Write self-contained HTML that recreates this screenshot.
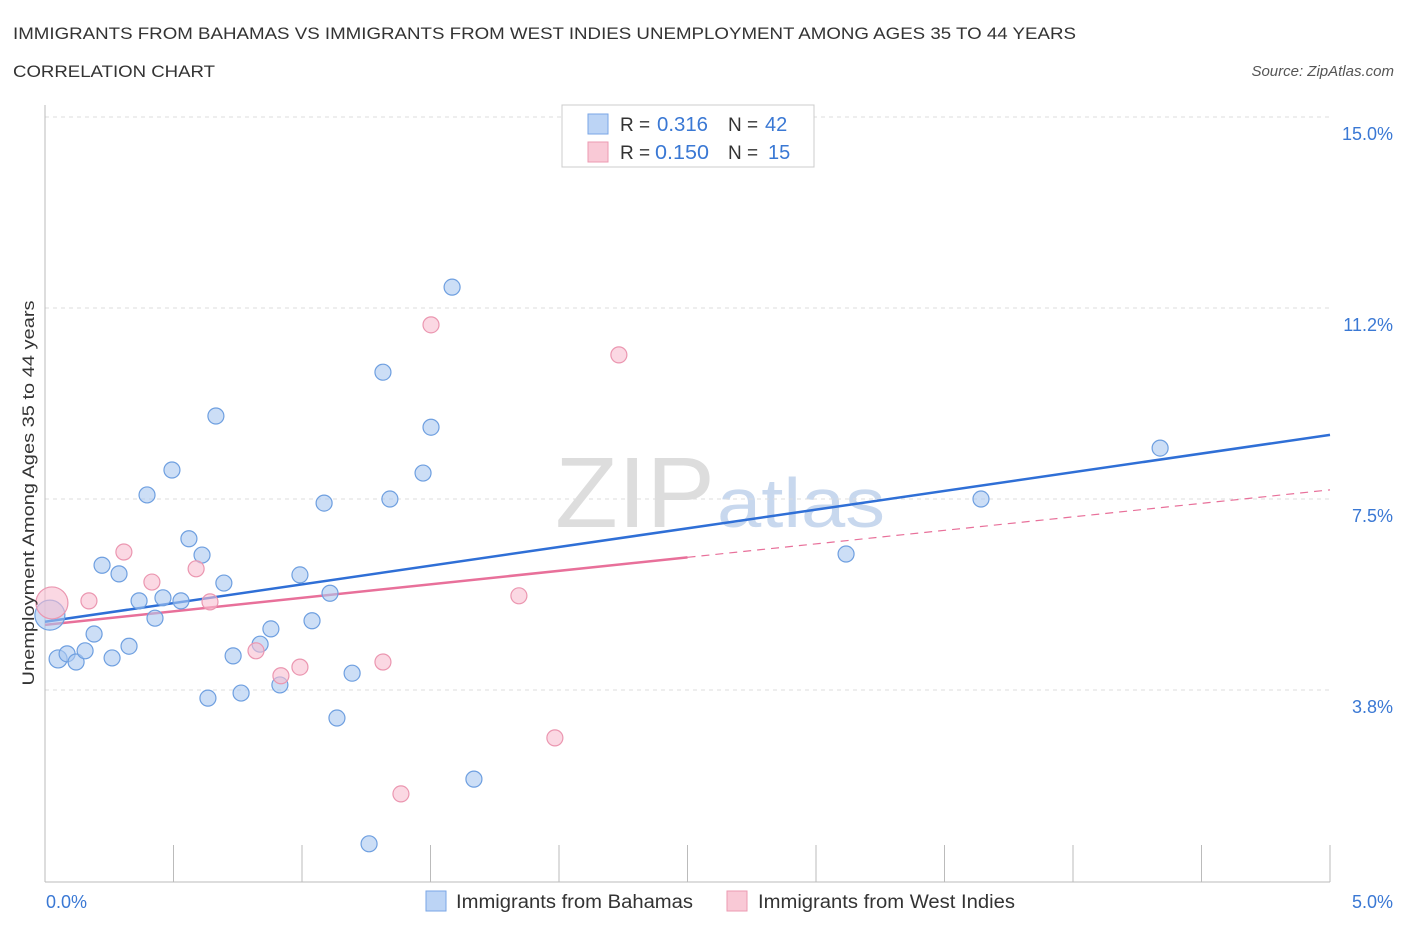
<!DOCTYPE html>
<html><head><meta charset="utf-8"><style>
body{margin:0;background:#fff;font-family:"Liberation Sans",sans-serif}
svg text{font-family:"Liberation Sans",sans-serif}
</style></head><body>
<svg width="1406" height="930" viewBox="0 0 1406 930" xmlns="http://www.w3.org/2000/svg" id="chart">
<text x="13" y="39" font-size="17" fill="#333" textLength="1063" lengthAdjust="spacingAndGlyphs">IMMIGRANTS FROM BAHAMAS VS IMMIGRANTS FROM WEST INDIES UNEMPLOYMENT AMONG AGES 35 TO 44 YEARS</text>
<text x="13" y="77" font-size="17" fill="#333" textLength="202" lengthAdjust="spacingAndGlyphs">CORRELATION CHART</text>
<text x="1394" y="76" font-size="15" fill="#555" font-style="italic" text-anchor="end">Source: ZipAtlas.com</text>
<text x="555" y="527" font-size="100" fill="#ddd" font-family="Liberation Serif" textLength="160" lengthAdjust="spacingAndGlyphs">ZIP</text>
<text x="717" y="527" font-size="70" fill="#c8d8ee" textLength="168" lengthAdjust="spacingAndGlyphs">atlas</text>
<g id="grid"></g>
<g id="axes"></g>
<g id="trend"></g>
<g id="pts"></g>
<text transform="translate(34,493) rotate(-90)" font-size="17" fill="#333" text-anchor="middle" textLength="385" lengthAdjust="spacingAndGlyphs">Unemployment Among Ages 35 to 44 years</text>
<text x="46" y="908" font-size="18" fill="#3a78d4">0.0%</text>
<text x="1393" y="908" font-size="18" fill="#3a78d4" text-anchor="end">5.0%</text>
<g>
<rect x="562" y="105" width="252" height="62" fill="#fff" stroke="#ccc"/>
<rect x="588" y="114" width="20" height="20" fill="#bcd4f5" stroke="#7aa6e6"/>
<rect x="588" y="142" width="20" height="20" fill="#f9c9d6" stroke="#ec9ab2"/>
<text x="620" y="131" font-size="19" fill="#333">R =</text><text x="657" y="131" font-size="20" fill="#3a78d4" textLength="51" lengthAdjust="spacingAndGlyphs">0.316</text>
<text x="728" y="131" font-size="19" fill="#333">N =</text><text x="765" y="131" font-size="20" fill="#3a78d4">42</text>
<text x="620" y="159" font-size="19" fill="#333">R =</text><text x="655" y="159" font-size="20" fill="#3a78d4" textLength="54" lengthAdjust="spacingAndGlyphs">0.150</text>
<text x="728" y="159" font-size="19" fill="#333">N =</text><text x="768" y="159" font-size="20" fill="#3a78d4">15</text>
</g>
<g>
<rect x="426" y="891" width="20" height="20" fill="#bcd4f5" stroke="#7aa6e6"/>
<text x="456" y="908" font-size="19" fill="#333" textLength="237" lengthAdjust="spacingAndGlyphs">Immigrants from Bahamas</text>
<rect x="727" y="891" width="20" height="20" fill="#f9c9d6" stroke="#ec9ab2"/>
<text x="758" y="908" font-size="19" fill="#333" textLength="257" lengthAdjust="spacingAndGlyphs">Immigrants from West Indies</text>
</g>
</svg>
<script>
const yTicks=[3.75,7.5,11.25,15];
const yTickLabels=["3.8%","7.5%","11.2%","15.0%"];
const blueX=[0.019,0.051,0.086,0.121,0.156,0.191,0.222,0.261,0.288,0.327,0.366,0.397,0.428,0.459,0.494,0.529,0.560,0.611,0.634,0.665,0.696,0.732,0.763,0.837,0.879,0.914,0.992,1.039,1.086,1.109,1.136,1.195,1.261,1.315,1.342,1.471,1.502,1.584,1.669,3.117,3.642,4.339];
const blueY=[5.22,4.36,4.46,4.30,4.52,4.85,6.20,4.38,6.03,4.61,5.50,7.58,5.16,5.56,8.07,5.50,6.72,6.40,3.59,9.13,5.85,4.42,3.69,4.65,4.95,3.85,6.01,5.11,7.42,5.65,3.20,4.08,0.73,9.99,7.50,8.01,8.91,11.66,2.00,6.42,7.50,8.50];
const pinkX=[0.027,0.171,0.307,0.416,0.588,0.642,0.821,0.918,0.992,1.315,1.385,1.502,1.844,1.984,2.233];
const pinkY=[5.46,5.50,6.46,5.87,6.13,5.48,4.52,4.03,4.20,4.30,1.71,10.92,5.60,2.81,10.33];
const blueTrend=[5.09,8.76];
const pinkTrend=[5.03,7.68];
const NS="http://www.w3.org/2000/svg";
const xs=v=>45+v*257, ys=v=>881-v*50.93;
function mk(t,a,p){const e=document.createElementNS(NS,t);for(const k in a)e.setAttribute(k,a[k]);p.appendChild(e);return e;}
const grid=document.getElementById('grid'),axes=document.getElementById('axes'),tr=document.getElementById('trend'),pts=document.getElementById('pts');
yTicks.forEach((v,i)=>{
 const l=mk('line',{x1:45,x2:1330,y1:ys(v),y2:ys(v),stroke:'#ddd','stroke-dasharray':'4,4'},grid);
 
 
 const t=mk('text',{x:1393,y:ys(v)+23,'font-size':18,fill:'#3a78d4','text-anchor':'end'},grid);
 t.textContent=yTickLabels[i];
 
 
});
const al=mk('line',{x1:45,x2:45,y1:105,y2:882,stroke:'#bbb'},axes);


const bl=mk('line',{x1:45,x2:1330,y1:882,y2:882,stroke:'#bbb'},axes);


for(let i=0;i<=10;i++){const tk=mk('line',{x1:xs(i*0.5),x2:xs(i*0.5),y1:845,y2:882,stroke:'#bbb'},axes);
 
 }
const b=mk('line',{x1:xs(0),y1:ys(blueTrend[0]),x2:xs(5),y2:ys(blueTrend[1]),stroke:'#2f6fd6','stroke-width':2.5},tr);


const pm=(pinkTrend[0]+pinkTrend[1])/2;
const p1=mk('line',{x1:xs(0),y1:ys(pinkTrend[0]),x2:xs(2.5),y2:ys(pm),stroke:'#e8709a','stroke-width':2.5},tr);


const p2=mk('line',{x1:xs(2.5),y1:ys(pm),x2:xs(5),y2:ys(pinkTrend[1]),stroke:'#e8709a','stroke-width':1.2,'stroke-dasharray':'8,6'},tr);


blueX.forEach((x,i)=>{const c=mk('circle',{cx:xs(x),cy:ys(blueY[i]),r:i==0?15:(i==1?9:8),fill:'rgba(170,200,240,0.6)',stroke:'#6e9fe0','stroke-width':1.2},pts);
 
 });
pinkX.forEach((x,i)=>{const c=mk('circle',{cx:xs(x),cy:ys(pinkY[i]),r:i==0?16:8,fill:'rgba(248,190,208,0.6)',stroke:'#eb96b0','stroke-width':1.2},pts);
 
 });
</script>
</body></html>
